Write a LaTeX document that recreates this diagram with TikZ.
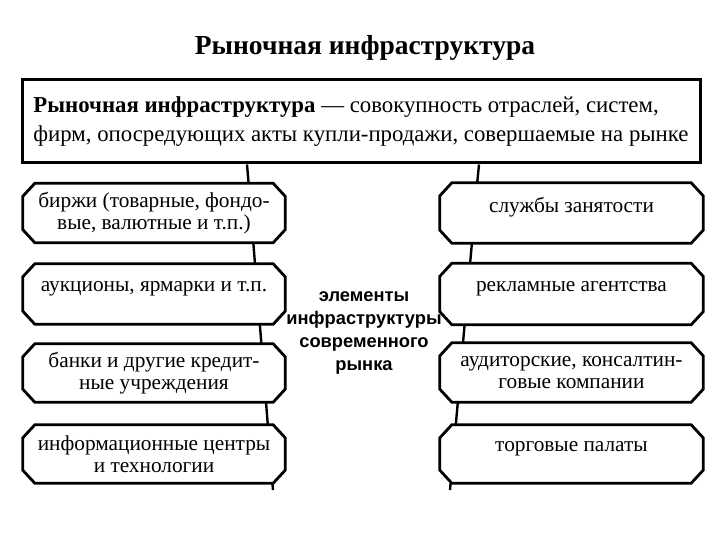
\documentclass[tikz,border=0pt]{standalone}
\usepackage{fontspec}
\setmainfont{Liberation Serif}
\newfontfamily\censans{Liberation Sans}
\tikzset{
  elbox/.style={rectangle, inner sep=0pt, align=center, font=\fontsize{21.3}{22}\selectfont, minimum height=#1},
  outl/.style={line width=2.8pt, line join=miter},
  conn/.style={line width=2.4pt},
  topbox/.style={draw, line width=3pt, minimum width=678pt, minimum height=83pt, inner sep=0pt, align=left,
    font=\fontsize{22.8}{29}\selectfont},
}
\begin{document}
\begin{tikzpicture}[x=1pt,y=-1pt]
\useasboundingbox (0,0) rectangle (720,540);
\node[font=\bfseries\fontsize{27.5}{30}\selectfont] (title) at (365,48) {Рыночная инфраструктура};
\node[topbox] (top) at (361,121.5) {\textbf{Рыночная инфраструктура} — совокупность отраслей, систем,\\фирм, опосредующих акты купли-продажи, совершаемые на рынке};
% left column
\node[elbox=59pt, minimum width=262pt] (l1) at (154,213) {биржи (товарные, фондо-\\вые, валютные и т.п.)};
\node[elbox=60pt, minimum width=262pt] (l2) at (154,294) {аукционы, ярмарки и т.п.\\[-6pt]\phantom{x}};
\node[elbox=58pt, minimum width=262pt] (l3) at (154,373) {банки и другие кредит-\\ные учреждения};
\node[elbox=58pt, minimum width=262pt] (l4) at (154,454) {информационные центры\\и технологии};
% right column
\node[elbox=60pt, minimum width=263pt] (r1) at (571.5,213) {службы занятости\\[-6pt]\phantom{x}};
\node[elbox=61pt, minimum width=263pt] (r2) at (571.5,294) {рекламные агентства\\[-6pt]\phantom{x}};
\node[elbox=59pt, minimum width=263pt] (r3) at (571.5,372.5) {аудиторские, консалтин-\\говые компании};
\node[elbox=58pt, minimum width=263pt] (r4) at (571.5,454) {торговые палаты\\[-6pt]\phantom{x}};
% chamfered outlines
\foreach \n in {l1,l2,l3,l4,r1,r2,r3,r4}{
  \draw[outl] ([xshift=12pt]\n.north west) -- ([xshift=-12pt]\n.north east) -- ([yshift=-13pt]\n.north east)
    -- ([yshift=13pt]\n.south east) -- ([xshift=-12pt]\n.south east) -- ([xshift=12pt]\n.south west)
    -- ([yshift=13pt]\n.south west) -- ([yshift=-13pt]\n.north west) -- cycle;
}
% connectors
\coordinate (lbot) at (273,490);
\coordinate (rbot) at (450,490);
\draw[conn] ([xshift=-114pt]top.south) -- ([xshift=94.6pt]l1.north);
\draw[conn] ([xshift=99.3pt]l1.south) -- ([xshift=101pt]l2.north);
\draw[conn] ([xshift=105.8pt]l2.south) -- ([xshift=107.4pt]l3.north);
\draw[conn] ([xshift=112pt]l3.south) -- ([xshift=113.8pt]l4.north);
\draw[conn] ([xshift=118.4pt]l4.south) -- (lbot);
\draw[conn] ([xshift=118pt]top.south) -- ([xshift=-94.3pt]r1.north);
\draw[conn] ([xshift=-99.6pt]r1.south) -- ([xshift=-101.4pt]r2.north);
\draw[conn] ([xshift=-106.9pt]r2.south) -- ([xshift=-108.5pt]r3.north);
\draw[conn] ([xshift=-113.7pt]r3.south) -- ([xshift=-115.7pt]r4.north);
\draw[conn] ([xshift=-120.9pt]r4.south) -- (rbot);
% centre text
\node[font=\censans\bfseries\fontsize{18.3}{22.8}\selectfont, align=center] (mid) at (364,333) {элементы\\инфраструктуры\\современного\\рынка};
\end{tikzpicture}
\end{document}
